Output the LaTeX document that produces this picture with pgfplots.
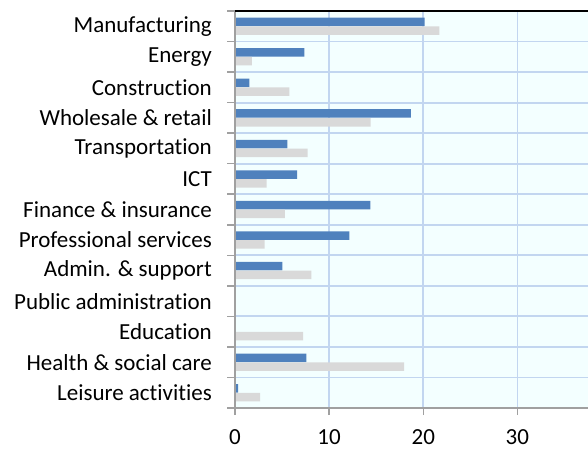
\documentclass[border=0pt]{standalone}
\usepackage{fontspec}
\setmainfont{Carlito}[Ligatures={NoCommon}]
\usepackage{pgfplots}
\pgfplotsset{compat=1.18}
\definecolor{sblue}{HTML}{4F81BD}
\definecolor{sgray}{HTML}{D9D9D9}
\definecolor{bgc}{HTML}{F3FFFF}
\definecolor{gridc}{HTML}{C2D6F0}
\definecolor{axc}{HTML}{A0A0A0}
\begin{document}
\begin{tikzpicture}
\begin{axis}[
  at={(235pt,42pt)}, anchor=south west,
  scale only axis, width=353pt, height=397pt,
  xmin=0, xmax=37.5, ymin=-0.5, ymax=12.5,
  xbar, bar width=8.5pt,
  axis background/.style={fill=bgc},
  axis line style={draw=none},
  xtick={0,10,20,30},
  ytick={0,...,12},
  yticklabels={Leisure activities, Health \& social care, Education, Public administration, Admin. \& support, Professional services, Finance \& insurance, ICT, Transportation, Wholesale \& retail, Construction, Energy, Manufacturing},
  minor ytick={-0.5,0.5,...,12.5},
  xtick pos=bottom, ytick pos=left, tick align=outside,
  major tick length=7pt, minor tick length=8pt,
  major y tick style={draw=none},
  minor y tick style={draw=axc, line width=1.5pt},
  major x tick style={draw=axc, line width=1.5pt},
  xmajorgrids=true, yminorgrids=true, ymajorgrids=false,
  major grid style={draw=gridc, line width=1.8pt},
  minor grid style={draw=gridc, line width=1.8pt},
  tick label style={font=\fontsize{23}{27}\selectfont},
  /pgf/number format/assume math mode=true,
  yticklabel style={inner sep=0pt, xshift=-16pt},
  xticklabel style={inner sep=0pt, anchor=north, yshift=-14.5pt},
  clip=false,
]
\addplot[fill=sblue, draw=none, bar shift=4.4pt] coordinates {
(20.15,12) (7.37,11) (1.52,10) (18.67,9) (5.56,8) (6.59,7) (14.38,6) (12.15,5) (5.03,4) (0,3) (0,2) (7.58,1) (0.32,0)};
\addplot[fill=sgray, draw=none, bar shift=-4.4pt] coordinates {
(21.7,12) (1.8,11) (5.77,10) (14.42,9) (7.72,8) (3.37,7) (5.31,6) (3.15,5) (8.11,4) (0,3) (7.23,2) (17.96,1) (2.66,0)};
\draw[axc, line width=1.5pt] (rel axis cs:0,0) -- (rel axis cs:1,0);
\draw[axc, line width=2pt] (rel axis cs:0,0) -- (rel axis cs:0,1);
\draw[black, line width=1.5pt] (rel axis cs:0,1) -- (rel axis cs:1,1);
\end{axis}
\pgfresetboundingbox
\path (0,0) rectangle (588pt,450pt);
\end{tikzpicture}
\end{document}
